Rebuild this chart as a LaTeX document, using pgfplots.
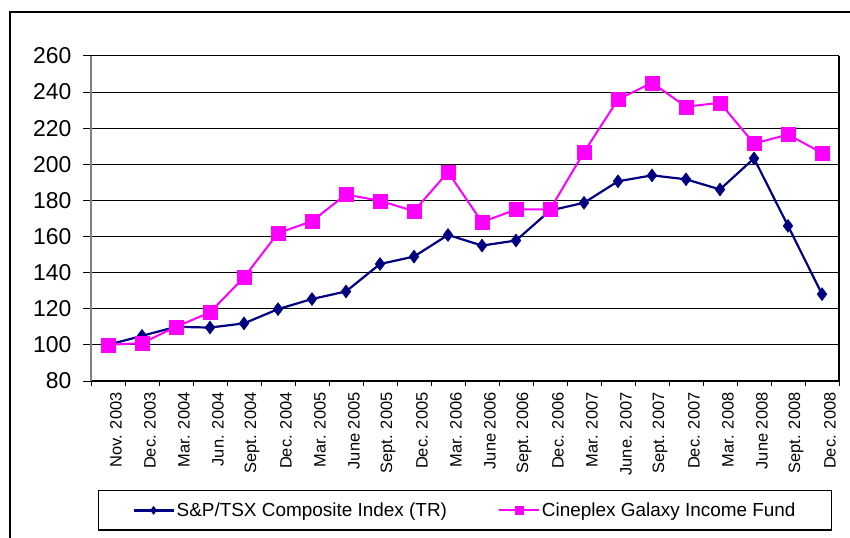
\documentclass[border=0pt]{standalone}
\usepackage{pgfplots}
\pgfplotsset{compat=1.18}
\usepackage{fontspec}
\setmainfont{Liberation Sans}
\definecolor{navy}{HTML}{000080}
\definecolor{mag}{HTML}{FF00FF}
\begin{document}
\begin{tikzpicture}
\begin{axis}[
  name=ax,
  scale only axis,
  width=748bp, height=325bp,
  xmin=-0.5, xmax=21.5,
  ymin=80, ymax=260,
  clip=false,
  xtick={0,...,21},
  xticklabels={Nov. 2003,Dec. 2003,Mar. 2004,Jun. 2004,Sept. 2004,Dec. 2004,Mar. 2005,June 2005,Sept. 2005,Dec. 2005,Mar. 2006,June 2006,Sept. 2006,Dec. 2006,Mar. 2007,June. 2007,Sept. 2007,Dec. 2007,Mar. 2008,June 2008,Sept. 2008,Dec. 2008},
  minor xtick={-0.5,0.5,...,21.5},
  ytick={80,100,...,260},
  ymajorgrids,
  major grid style={black, line width=1bp},
  tick align=outside,
  major tick length=8bp,
  minor tick length=5bp,
  x tick style={draw=none},
  minor x tick style={draw=black, line width=1bp},
  y tick style={black, line width=1bp},
  axis x line*=bottom,
  axis y line*=left,
  x axis line style={black, line width=1.2bp, -},
  y axis line style={gray, line width=1.5bp, -},
  /pgf/number format/assume math mode=true,
  yticklabel style={font=\fontsize{23}{23}\selectfont, xshift=-8bp},
  xticklabel style={font=\fontsize{16.5}{16.5}\selectfont, rotate=90, anchor=east, yshift=-8bp},
  legend columns=2,
  legend style={at={(0.5,-0.336)}, anchor=north, draw=black, line width=1.2bp,
    font=\fontsize{19}{19}\selectfont, inner xsep=34bp, inner ysep=10bp,
    /tikz/every even column/.append style={column sep=49bp}},
  legend image code/.code={\draw[mark repeat=2,mark phase=2] plot coordinates {(0bp,0bp) (20bp,0bp) (40bp,0bp)};},
  legend image post style={mark size=4bp},
]
\addplot[navy, line width=2.2bp, mark=diamond*, mark size=6.5bp, mark options={solid, fill=navy, line width=0.5bp}] coordinates {
(0,100) (1,105) (2,110) (3,109.6) (4,111.9) (5,119.8) (6,125.4) (7,129.6) (8,144.8) (9,148.9) (10,160.9)
(11,155) (12,157.8) (13,174.4) (14,178.7) (15,190.6) (16,193.9) (17,191.7) (18,186.1) (19,203.3) (20,165.9) (21,128.1)};
\addlegendentry{S\&P/TSX Composite Index (TR)}
\addplot[mag, line width=2bp, mark=square*, mark size=7bp, mark options={solid, fill=mag, line width=0.3bp}] coordinates {
(0,100) (1,101) (2,110) (3,118) (4,137.4) (5,161.9) (6,168.5) (7,183.3) (8,179.8) (9,174.1) (10,195.7)
(11,168) (12,175) (13,175) (14,206.7) (15,235.9) (16,245.2) (17,231.9) (18,234.1) (19,211.5) (20,216.5) (21,206.3)};
\addlegendentry{Cineplex Galaxy Income Fund}
\draw[black, line width=1.2bp] (rel axis cs:1,0) -- (rel axis cs:1,1);
\coordinate (O) at (rel axis cs:0,0);
\end{axis}
\draw[black, line width=1.5bp] ([shift={(-81bp,-160bp)}]O) -- ([shift={(-81bp,369bp)}]O) -- ([shift={(765bp,369bp)}]O);
\pgfresetboundingbox
\path[use as bounding box] ([shift={(-91bp,-157bp)}]O) rectangle ([shift={(759bp,381bp)}]O);
\end{tikzpicture}
\end{document}
